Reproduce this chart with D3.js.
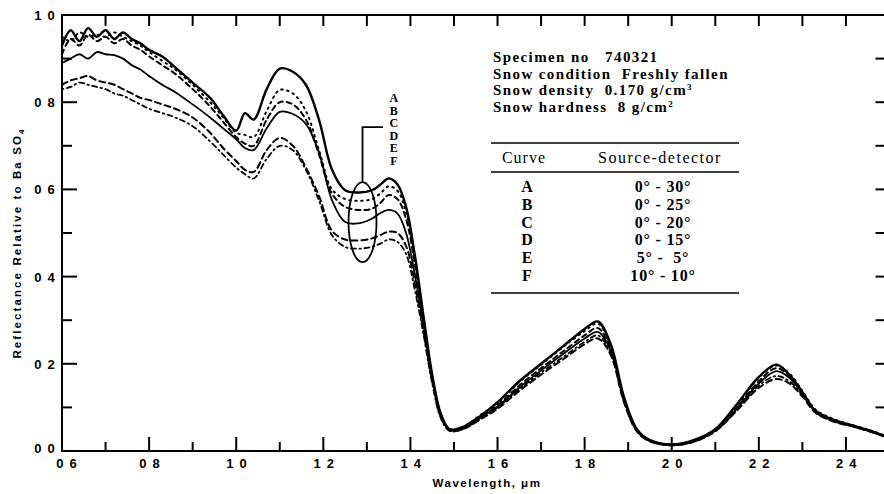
<!DOCTYPE html>
<html><head><meta charset="utf-8">
<script src="https://cdn.jsdelivr.net/npm/d3@7"></script>
<style>body{margin:0;background:#fff}svg{display:block}</style>
</head><body><svg id="c" width="884" height="494"></svg>
<script>
// ---------------- data ----------------
const wavelength = [0.60,0.62,0.64,0.66,0.68,0.70,0.72,0.74,0.76,0.78,0.80,0.83,0.86,0.90,0.94,0.97,1.00,1.02,1.04,1.07,1.10,1.13,1.16,1.19,1.22,1.25,1.28,1.31,1.33,1.35,1.37,1.39,1.41,1.43,1.45,1.47,1.49,1.52,1.56,1.60,1.65,1.70,1.75,1.80,1.83,1.86,1.89,1.92,1.95,2.00,2.05,2.10,2.15,2.20,2.24,2.27,2.30,2.33,2.37,2.42,2.46,2.50];
const curveA = [0.93,0.965,0.94,0.97,0.95,0.965,0.945,0.96,0.945,0.935,0.92,0.905,0.88,0.845,0.81,0.77,0.735,0.775,0.76,0.83,0.877,0.87,0.84,0.76,0.645,0.598,0.593,0.597,0.61,0.625,0.612,0.56,0.45,0.31,0.175,0.085,0.05,0.055,0.08,0.112,0.16,0.20,0.24,0.28,0.297,0.245,0.125,0.05,0.025,0.015,0.025,0.05,0.108,0.17,0.198,0.175,0.135,0.092,0.072,0.057,0.045,0.03];
const curveB = [0.95,0.94,0.96,0.95,0.955,0.95,0.96,0.95,0.94,0.93,0.915,0.895,0.875,0.84,0.80,0.765,0.73,0.725,0.72,0.78,0.828,0.82,0.78,0.69,0.60,0.578,0.574,0.577,0.59,0.607,0.597,0.548,0.44,0.305,0.172,0.084,0.05,0.055,0.082,0.11,0.158,0.198,0.238,0.275,0.292,0.24,0.122,0.048,0.024,0.015,0.024,0.05,0.105,0.168,0.196,0.178,0.138,0.095,0.074,0.058,0.046,0.031];
const curveC = [0.91,0.945,0.93,0.955,0.94,0.95,0.935,0.945,0.93,0.92,0.905,0.885,0.865,0.83,0.79,0.755,0.72,0.705,0.70,0.76,0.80,0.795,0.76,0.68,0.59,0.56,0.553,0.555,0.568,0.587,0.578,0.532,0.43,0.3,0.17,0.083,0.05,0.053,0.078,0.105,0.15,0.19,0.228,0.265,0.282,0.235,0.12,0.048,0.024,0.015,0.023,0.048,0.1,0.16,0.19,0.172,0.135,0.093,0.072,0.057,0.045,0.03];
const curveD = [0.89,0.90,0.91,0.90,0.915,0.91,0.908,0.90,0.885,0.875,0.86,0.84,0.823,0.795,0.765,0.74,0.715,0.695,0.69,0.74,0.778,0.773,0.75,0.685,0.575,0.525,0.522,0.532,0.545,0.553,0.545,0.5,0.405,0.29,0.165,0.08,0.048,0.052,0.076,0.102,0.145,0.185,0.222,0.258,0.273,0.23,0.118,0.047,0.023,0.014,0.022,0.047,0.098,0.155,0.183,0.168,0.132,0.09,0.07,0.056,0.044,0.03];
const curveE = [0.84,0.85,0.855,0.86,0.85,0.845,0.84,0.83,0.82,0.81,0.805,0.795,0.785,0.765,0.73,0.695,0.665,0.645,0.64,0.69,0.718,0.70,0.65,0.585,0.505,0.485,0.483,0.487,0.495,0.503,0.50,0.47,0.385,0.275,0.16,0.078,0.047,0.05,0.072,0.097,0.138,0.175,0.21,0.245,0.258,0.22,0.113,0.045,0.022,0.013,0.021,0.045,0.093,0.145,0.165,0.155,0.125,0.088,0.068,0.055,0.043,0.029];
const curveF = [0.83,0.835,0.845,0.84,0.835,0.83,0.82,0.815,0.805,0.795,0.785,0.775,0.765,0.745,0.71,0.68,0.65,0.635,0.625,0.67,0.70,0.69,0.645,0.575,0.495,0.468,0.464,0.468,0.475,0.485,0.48,0.452,0.37,0.268,0.155,0.075,0.046,0.05,0.074,0.1,0.142,0.18,0.215,0.25,0.265,0.225,0.115,0.046,0.022,0.013,0.021,0.046,0.095,0.15,0.172,0.16,0.128,0.089,0.069,0.055,0.043,0.029];
const curveNames = ["A","B","C","D","E","F"];
const sourceDetector = ["0\u00B0 - 30\u00B0","0\u00B0 - 25\u00B0","0\u00B0 - 20\u00B0","0\u00B0 - 15\u00B0","5\u00B0 -  5\u00B0","10\u00B0 - 10\u00B0"];
const xTicks = [0.6,0.8,1.0,1.2,1.4,1.6,1.8,2.0,2.2,2.4];
const xTickLabels = ["0 6","0 8","1 0","1 2","1 4","1 6","1 8","2 0","2 2","2 4"];
const xMinorTicks = [0.7,0.9,1.1,1.3,1.5,1.7,1.9,2.1,2.3];
const yTicks = [0,0.2,0.4,0.6,0.8,1.0];
const yTickLabels = ["0 0","0 2","0 4","0 6","0 8","1 0"];
const yMinorTicks = [0.1,0.3,0.5,0.7,0.9];
const topTicks = [0.7,0.8,0.9,1.0,1.1,1.2,1.3,1.4,1.5,1.6,1.7,1.8,1.9,2.0,2.1,2.2,2.3,2.4];
const rightTicks = [0.1,0.2,0.3,0.4,0.5,0.6,0.7,0.8,0.9];
const specimenLines = ["Specimen no   740321","Snow condition  Freshly fallen","Snow density  0.170 g/cm","Snow hardness  8 g/cm"];
const specimenSup = ["","","3","2"];

// ---------------- chart ----------------
const svg = d3.select("#c");
const x = d3.scaleLinear().domain([0.6,2.5]).range([62,889.5]);
const y = d3.scaleLinear().domain([0,1]).range([451,15]);
const ink = "#000";
const sans = "Liberation Sans, Arial, sans-serif";
const serif = "Liberation Serif, Times New Roman, serif";

const series = [curveA,curveB,curveC,curveD,curveE,curveF];
const styles = [
  {w:2.4, dash:null},
  {w:2.0, dash:"1.5,4.5"},
  {w:2.0, dash:"5,4"},
  {w:1.8, dash:null},
  {w:2.0, dash:"6,4"},
  {w:1.8, dash:"1.5,3.5,5,3.5"}
];
svg.append("clipPath").attr("id","clip").append("rect")
  .attr("x",62).attr("y",15).attr("width",827).attr("height",436);
const line = d3.line().x((d,i)=>x(wavelength[i])).y(d=>y(d)).curve(d3.curveCatmullRom.alpha(0.5));
const g = svg.append("g").attr("clip-path","url(#clip)");
series.forEach((s,k)=>{
  g.append("path").attr("d",line(s)).attr("fill","none").attr("stroke",ink)
   .attr("stroke-width",styles[k].w).attr("stroke-dasharray",styles[k].dash)
   .attr("stroke-linejoin","round").attr("stroke-linecap","round");
});

// ---- frame and ticks (drawn from the scales) ----
const ax = svg.append("g").attr("stroke",ink).attr("stroke-width",2).attr("stroke-linecap","square");
const X0 = x(0.6), X1 = x(2.5), Y0 = y(0), Y1 = y(1);
ax.append("line").attr("x1",X0).attr("x2",X1).attr("y1",Y0).attr("y2",Y0);
ax.append("line").attr("x1",X0).attr("x2",X1).attr("y1",Y1).attr("y2",Y1);
ax.append("line").attr("x1",X0).attr("x2",X0).attr("y1",Y0).attr("y2",Y1);
ax.append("line").attr("x1",X1).attr("x2",X1).attr("y1",Y0).attr("y2",Y1);
xTicks.forEach(v=>ax.append("line").attr("x1",x(v)).attr("x2",x(v)).attr("y1",Y0).attr("y2",Y0-13));
xMinorTicks.forEach(v=>ax.append("line").attr("x1",x(v)).attr("x2",x(v)).attr("y1",Y0).attr("y2",Y0-8));
yTicks.forEach(v=>ax.append("line").attr("x1",X0).attr("x2",X0+14).attr("y1",y(v)).attr("y2",y(v)));
yMinorTicks.forEach(v=>ax.append("line").attr("x1",X0).attr("x2",X0+9).attr("y1",y(v)).attr("y2",y(v)));
topTicks.forEach(v=>ax.append("line").attr("x1",x(v)).attr("x2",x(v)).attr("y1",Y1).attr("y2",Y1+10));
rightTicks.forEach(v=>ax.append("line").attr("x1",X1).attr("x2",X1-13).attr("y1",y(v)).attr("y2",y(v)));

// tick labels
xTicks.forEach((v,i)=>svg.append("text").attr("x",x(v)+ (i===0?5:1)).attr("y",Y0+17).attr("text-anchor","middle")
  .attr("font-family",sans).attr("font-weight","bold").attr("font-size",13).attr("letter-spacing",1.2)
  .attr("fill",ink).text(xTickLabels[i]));
yTicks.forEach((v,i)=>svg.append("text").attr("x",X0-6).attr("y",y(v)+ (i===0?2:5)).attr("text-anchor","end")
  .attr("font-family",sans).attr("font-weight","bold").attr("font-size",13).attr("letter-spacing",1.2)
  .attr("fill",ink).text(yTickLabels[i]));

// axis titles
svg.append("text").attr("x",487).attr("y",487).attr("text-anchor","middle")
  .attr("font-family",sans).attr("font-weight","bold")
  .attr("font-size",11.5).attr("letter-spacing",1.5).attr("fill",ink)
  .text("Wavelength,  \u03BCm");
const yt = svg.append("text").attr("transform","translate(21,243) rotate(-90)").attr("text-anchor","middle")
  .attr("font-family",sans).attr("font-weight","bold")
  .attr("font-size",11.5).attr("letter-spacing",2.1).attr("fill",ink);
yt.append("tspan").text("Reflectance Relative to Ba SO");
yt.append("tspan").attr("font-size",8).attr("dy",3).text("4");

// specimen info
specimenLines.forEach((t,i)=>{
  const tt = svg.append("text").attr("x",493).attr("y",62+i*16.7)
    .attr("font-family",serif).attr("font-weight","bold").attr("font-size",15).attr("letter-spacing",1.4)
    .attr("fill",ink).style("white-space","pre");
  tt.append("tspan").text(t);
  if (specimenSup[i]) tt.append("tspan").attr("font-size",9).attr("dy",-5).text(specimenSup[i]);
});

// table
const tbl = svg.append("g");
[143,172,293].forEach(yy=>tbl.append("line").attr("x1",491).attr("x2",739).attr("y1",yy).attr("y2",yy)
  .attr("stroke",ink).attr("stroke-width",1.6));
tbl.append("text").attr("x",524).attr("y",163).attr("text-anchor","middle").attr("font-family",serif)
  .attr("font-size",16).attr("letter-spacing",1).attr("fill",ink).text("Curve");
tbl.append("text").attr("x",660).attr("y",163).attr("text-anchor","middle").attr("font-family",serif)
  .attr("font-size",16).attr("letter-spacing",1.5).attr("fill",ink).text("Source-detector");
curveNames.forEach((n,i)=>{
  tbl.append("text").attr("x",527).attr("y",192+i*17.8).attr("text-anchor","middle").attr("font-family",serif)
    .attr("font-weight","bold").attr("font-size",16).attr("fill",ink).text(n);
  tbl.append("text").attr("x",663).attr("y",192+i*17.8).attr("text-anchor","middle").attr("font-family",serif)
    .attr("font-weight","bold").attr("font-size",16).attr("letter-spacing",0.8).attr("fill",ink)
    .style("white-space","pre").text(sourceDetector[i]);
});

// annotation: ellipse with leader and A-F labels
const ann = svg.append("g");
ann.append("ellipse").attr("cx",x(1.29)).attr("cy",y(0.525)).attr("rx",14).attr("ry",40)
  .attr("fill","none").attr("stroke",ink).attr("stroke-width",1.8);
ann.append("path").attr("d",d3.line()([[x(1.29),y(0.525)-40],[x(1.29),y(0.743)],[x(1.337),y(0.743)]]))
  .attr("fill","none").attr("stroke",ink).attr("stroke-width",1.8);
curveNames.forEach((n,i)=>{
  ann.append("text").attr("x",x(1.362)).attr("y",102+i*12.6).attr("text-anchor","middle")
    .attr("font-family",serif).attr("font-weight","bold").attr("font-size",12).attr("fill",ink).text(n);
});
</script></body></html>
